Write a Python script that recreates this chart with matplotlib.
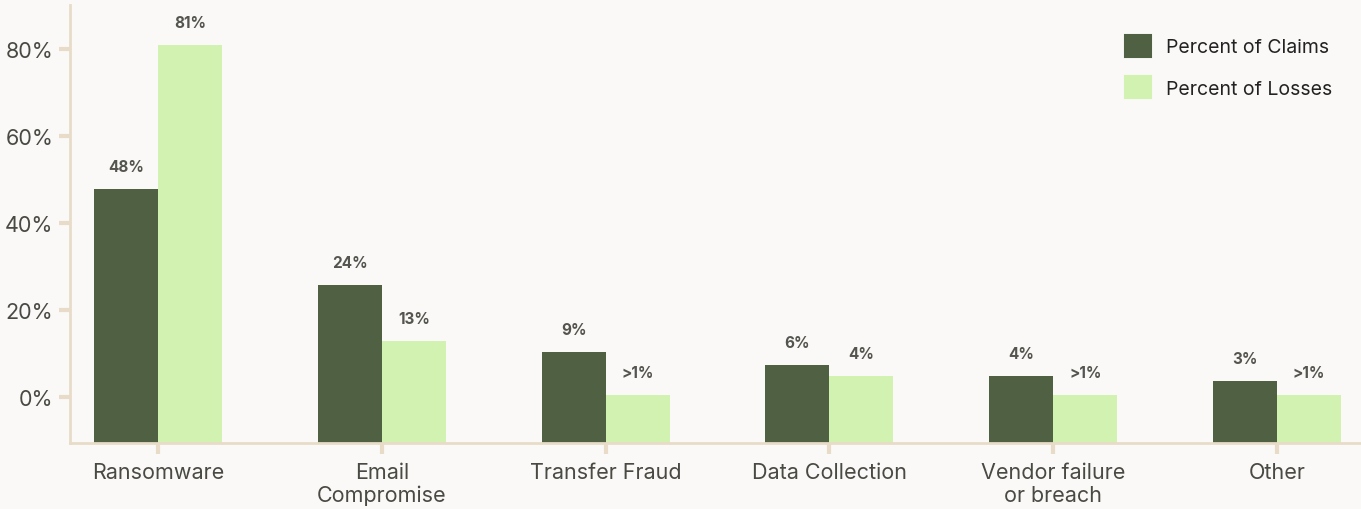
import matplotlib
matplotlib.use("Agg")
import matplotlib.pyplot as plt
import numpy as np
from matplotlib.patches import Patch

categories = ["Ransomware", "Email\nCompromise", "Transfer Fraud", "Data Collection",
              "Vendor failure\nor breach", "Other"]
claims = [47.8, 25.8, 10.4, 7.4, 4.9, 3.7]
losses = [80.9, 12.9, 0.6, 4.9, 0.55, 0.55]
claims_labels = ["48%", "24%", "9%", "6%", "4%", "3%"]
losses_labels = ["81%", "13%", ">1%", "4%", ">1%", ">1%"]
yticks = [0, 20, 40, 60, 80]

plt.rcParams['font.family'] = ['Inter', 'DejaVu Sans']
bg = "#faf9f7"
spine_c = "#e8dcc8"
dark = "#4f6043"
light = "#d1f2b0"
txt = "#4a4a44"

fig = plt.figure(figsize=(13.61, 5.10), dpi=100, facecolor=bg)
ax = fig.add_axes([70/1361, 66/510, 1291/1361, 438/510], facecolor=bg)

ymin, ymax = -10.5, 90
x = np.arange(len(categories))
w = 0.286
ax.bar(x - w/2, np.array(claims) - ymin, w, bottom=ymin, color=dark, label="Percent of Claims")
ax.bar(x + w/2, np.array(losses) - ymin, w, bottom=ymin, color=light, label="Percent of Losses")

for xi, v, l in zip(x, claims, claims_labels):
    ax.annotate(l, (xi - w/2, v), xytext=(0, 16), textcoords="offset points",
                ha="center", va="center", fontsize=11, fontweight="bold", color="#555550")
for xi, v, l in zip(x, losses, losses_labels):
    ax.annotate(l, (xi + w/2, v), xytext=(0, 16), textcoords="offset points",
                ha="center", va="center", fontsize=11, fontweight="bold", color="#555550")

ax.set_xlim(-0.393, 5.375)
ax.set_ylim(ymin, ymax)
ax.set_yticks(yticks)
ax.set_yticklabels([f"{t}%" for t in yticks])
ax.set_xticks(x)
ax.set_xticklabels(categories, linespacing=1.15)
for s in ["top", "right"]:
    ax.spines[s].set_visible(False)
for s in ["left", "bottom"]:
    ax.spines[s].set_color(spine_c)
    ax.spines[s].set_linewidth(2)
ax.tick_params(axis="y", length=8, width=3, color=spine_c, labelsize=15.5, labelcolor=txt, pad=4)
ax.tick_params(axis="x", length=8, width=3, color=spine_c, labelsize=15.5, labelcolor=txt, pad=6)

handles = [Patch(facecolor=dark, edgecolor=dark, linewidth=1.5, joinstyle="round",
                 label="Percent of Claims"),
           Patch(facecolor=light, edgecolor=light, linewidth=1.5, joinstyle="round",
                 label="Percent of Losses")]
leg = fig.legend(handles=handles, loc="upper left", frameon=False, fontsize=14,
                 handlelength=1.35, handleheight=1.35, handletextpad=0.75, labelspacing=1.0,
                 bbox_to_anchor=(1125/1361, 1 - 36/510), bbox_transform=fig.transFigure,
                 borderaxespad=0, borderpad=0, labelcolor="#222222")

fig.savefig("out.png", dpi=100, facecolor=bg)
